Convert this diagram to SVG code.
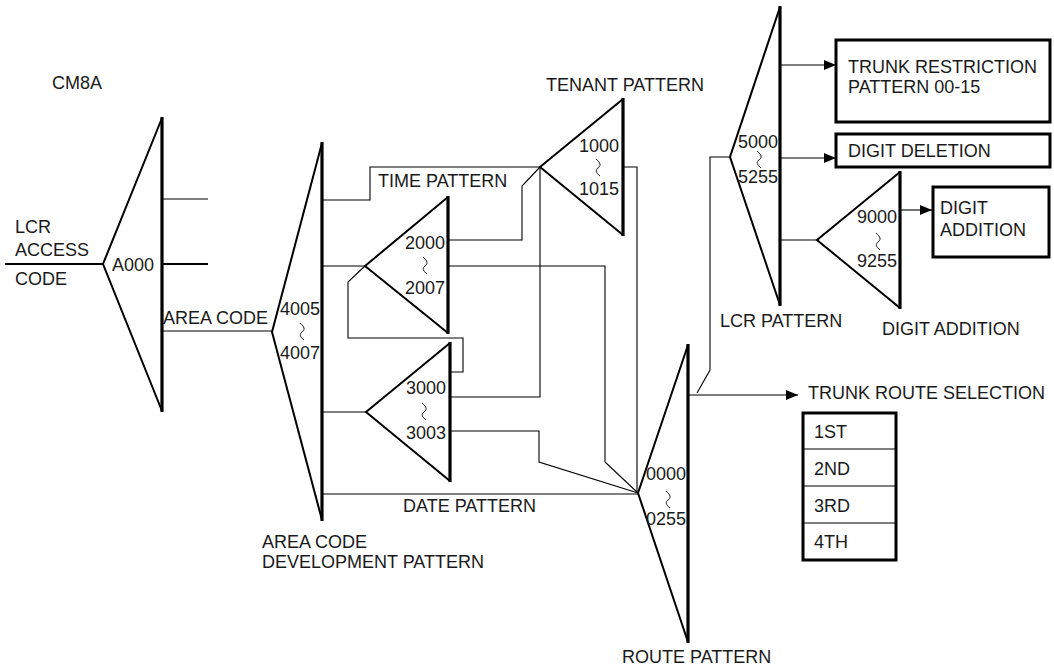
<svg xmlns="http://www.w3.org/2000/svg" width="1054" height="669" viewBox="0 0 1054 669">
<defs>
<style>
text{font-family:"Liberation Sans",Arial,sans-serif;font-size:18px;fill:#1a1a1a}
.num{text-anchor:end}
.side{fill:none;stroke:#000;stroke-width:2}
.bar{stroke:#000;stroke-width:3.2}
.sq{fill:none;stroke:#000;stroke-width:0.9}
.box{fill:#fff;stroke:#000;stroke-width:3}
.c{fill:none;stroke:#000;stroke-width:1.1}
.ct{fill:none;stroke:#000;stroke-width:2}
</style>
<marker id="ah" viewBox="0 0 12 10" refX="12" refY="5" markerWidth="12" markerHeight="10" markerUnits="userSpaceOnUse" orient="auto">
<path d="M0,0 L12,5 L0,10 Z" fill="#000"/>
</marker>
<path id="squig" d="M-2,0 C3,4 3,7 0,9 S-2,14 2,17"/>
</defs>
<rect width="1054" height="669" fill="#fff"/>

<g id="connectors">
<path class="ct" d="M5,264 H103"/>
<path class="c" d="M162,199 H208"/>
<path class="ct" d="M162,264 H208"/>
<path class="c" d="M162,331 H272"/>
<path class="c" d="M322,200 H370 V167 H540"/>
<path class="c" d="M322,266 H365"/>
<path class="c" d="M322,412 H366"/>
<path class="c" d="M322,494 H638"/>
<path class="c" d="M448,240 H522 V186 L540,167"/>
<path class="c" d="M448,266 H605 V462 L638,493"/>
<path class="c" d="M365,266 L348,282 V338 H463 V372 H450"/>
<path class="c" d="M450,397 H540 V167"/>
<path class="c" d="M450,431 H539 V462 L638,493"/>
<path class="c" d="M623,167 H637 V493"/>
<path class="c" d="M688,395 H798" marker-end="url(#ah)"/>
<path class="c" d="M697,393 L710,370 V157 H730"/>
<path class="c" d="M780,65 H836" marker-end="url(#ah)"/>
<path class="c" d="M780,158 H836" marker-end="url(#ah)"/>
<path class="c" d="M780,240 H817"/>
<path class="c" d="M900,210 H932" marker-end="url(#ah)"/>
</g>

<g id="cm8a">
<text x="52" y="89">CM8A</text>
</g>

<g id="lcr-access">
<text x="15" y="233">LCR</text>
<text x="15" y="256">ACCESS</text>
<text x="15" y="285">CODE</text>
</g>

<g id="a000">
<path class="side" d="M162,118 L103,264 L162,411"/>
<line class="bar" x1="162" y1="117" x2="162" y2="412"/>
<text x="112" y="271">A000</text>
</g>

<g id="area-code-label">
<text x="163" y="324">AREA CODE</text>
</g>

<g id="area-code-pattern">
<path class="side" d="M322,143 L272,332 L322,520"/>
<line class="bar" x1="322" y1="142" x2="322" y2="521"/>
<text class="num" x="320" y="315">4005</text>
<use href="#squig" class="sq" x="302" y="323"/>
<text class="num" x="320" y="359">4007</text>
<text x="262" y="548">AREA CODE</text>
<text x="262" y="568">DEVELOPMENT PATTERN</text>
</g>

<g id="time-pattern-label">
<text x="378" y="187">TIME PATTERN</text>
</g>

<g id="time-pattern">
<path class="side" d="M448,197 L365,266 L448,333"/>
<line class="bar" x1="448" y1="196" x2="448" y2="334"/>
<text class="num" x="445" y="249">2000</text>
<use href="#squig" class="sq" x="425" y="257"/>
<text class="num" x="445" y="294">2007</text>
</g>

<g id="date-pattern">
<path class="side" d="M450,343 L366,412 L450,481"/>
<line class="bar" x1="450" y1="342" x2="450" y2="482"/>
<text class="num" x="446" y="394">3000</text>
<use href="#squig" class="sq" x="424" y="403"/>
<text class="num" x="446" y="439">3003</text>
</g>

<g id="date-pattern-label">
<text x="403" y="512">DATE PATTERN</text>
</g>

<g id="tenant-pattern">
<path class="side" d="M623,99 L540,167 L623,235"/>
<line class="bar" x1="623" y1="98" x2="623" y2="236"/>
<text class="num" x="619" y="152">1000</text>
<use href="#squig" class="sq" x="598" y="159"/>
<text class="num" x="619" y="195">1015</text>
<text x="546" y="91">TENANT PATTERN</text>
</g>

<g id="route-pattern">
<path class="side" d="M688,345 L638,493 L688,642"/>
<line class="bar" x1="688" y1="344" x2="688" y2="643"/>
<text class="num" x="686" y="480">0000</text>
<use href="#squig" class="sq" x="668" y="491"/>
<text class="num" x="686" y="525">0255</text>
<text x="622" y="663">ROUTE PATTERN</text>
</g>

<g id="lcr-pattern">
<path class="side" d="M780,7 L730,157 L780,305"/>
<line class="bar" x1="780" y1="6" x2="780" y2="306"/>
<text class="num" x="778" y="148">5000</text>
<use href="#squig" class="sq" x="759" y="151"/>
<text class="num" x="778" y="183">5255</text>
<text x="720" y="327">LCR PATTERN</text>
</g>

<g id="digit-addition-pattern">
<path class="side" d="M900,172 L817,240 L900,308"/>
<line class="bar" x1="900" y1="171" x2="900" y2="309"/>
<text class="num" x="897" y="223">9000</text>
<use href="#squig" class="sq" x="878" y="233"/>
<text class="num" x="897" y="267">9255</text>
<text x="882" y="335">DIGIT ADDITION</text>
</g>

<g id="trunk-restriction">
<rect class="box" x="836" y="40" width="214" height="82"/>
<text x="848" y="73">TRUNK RESTRICTION</text>
<text x="848" y="93">PATTERN 00-15</text>
</g>

<g id="digit-deletion">
<rect class="box" x="836" y="134" width="214" height="33"/>
<text x="848" y="157">DIGIT DELETION</text>
</g>

<g id="digit-addition">
<rect class="box" x="933" y="187" width="116" height="70"/>
<text x="940" y="214">DIGIT</text>
<text x="940" y="236">ADDITION</text>
</g>

<g id="trunk-route-selection">
<text x="808" y="399">TRUNK ROUTE SELECTION</text>
<rect class="box" x="803" y="413" width="93" height="147"/>
<line class="c" x1="803" y1="449" x2="896" y2="449"/>
<line class="c" x1="803" y1="486" x2="896" y2="486"/>
<line class="c" x1="803" y1="523" x2="896" y2="523"/>
<text x="814" y="438">1ST</text>
<text x="814" y="475">2ND</text>
<text x="814" y="512">3RD</text>
<text x="814" y="548">4TH</text>
</g>
</svg>
